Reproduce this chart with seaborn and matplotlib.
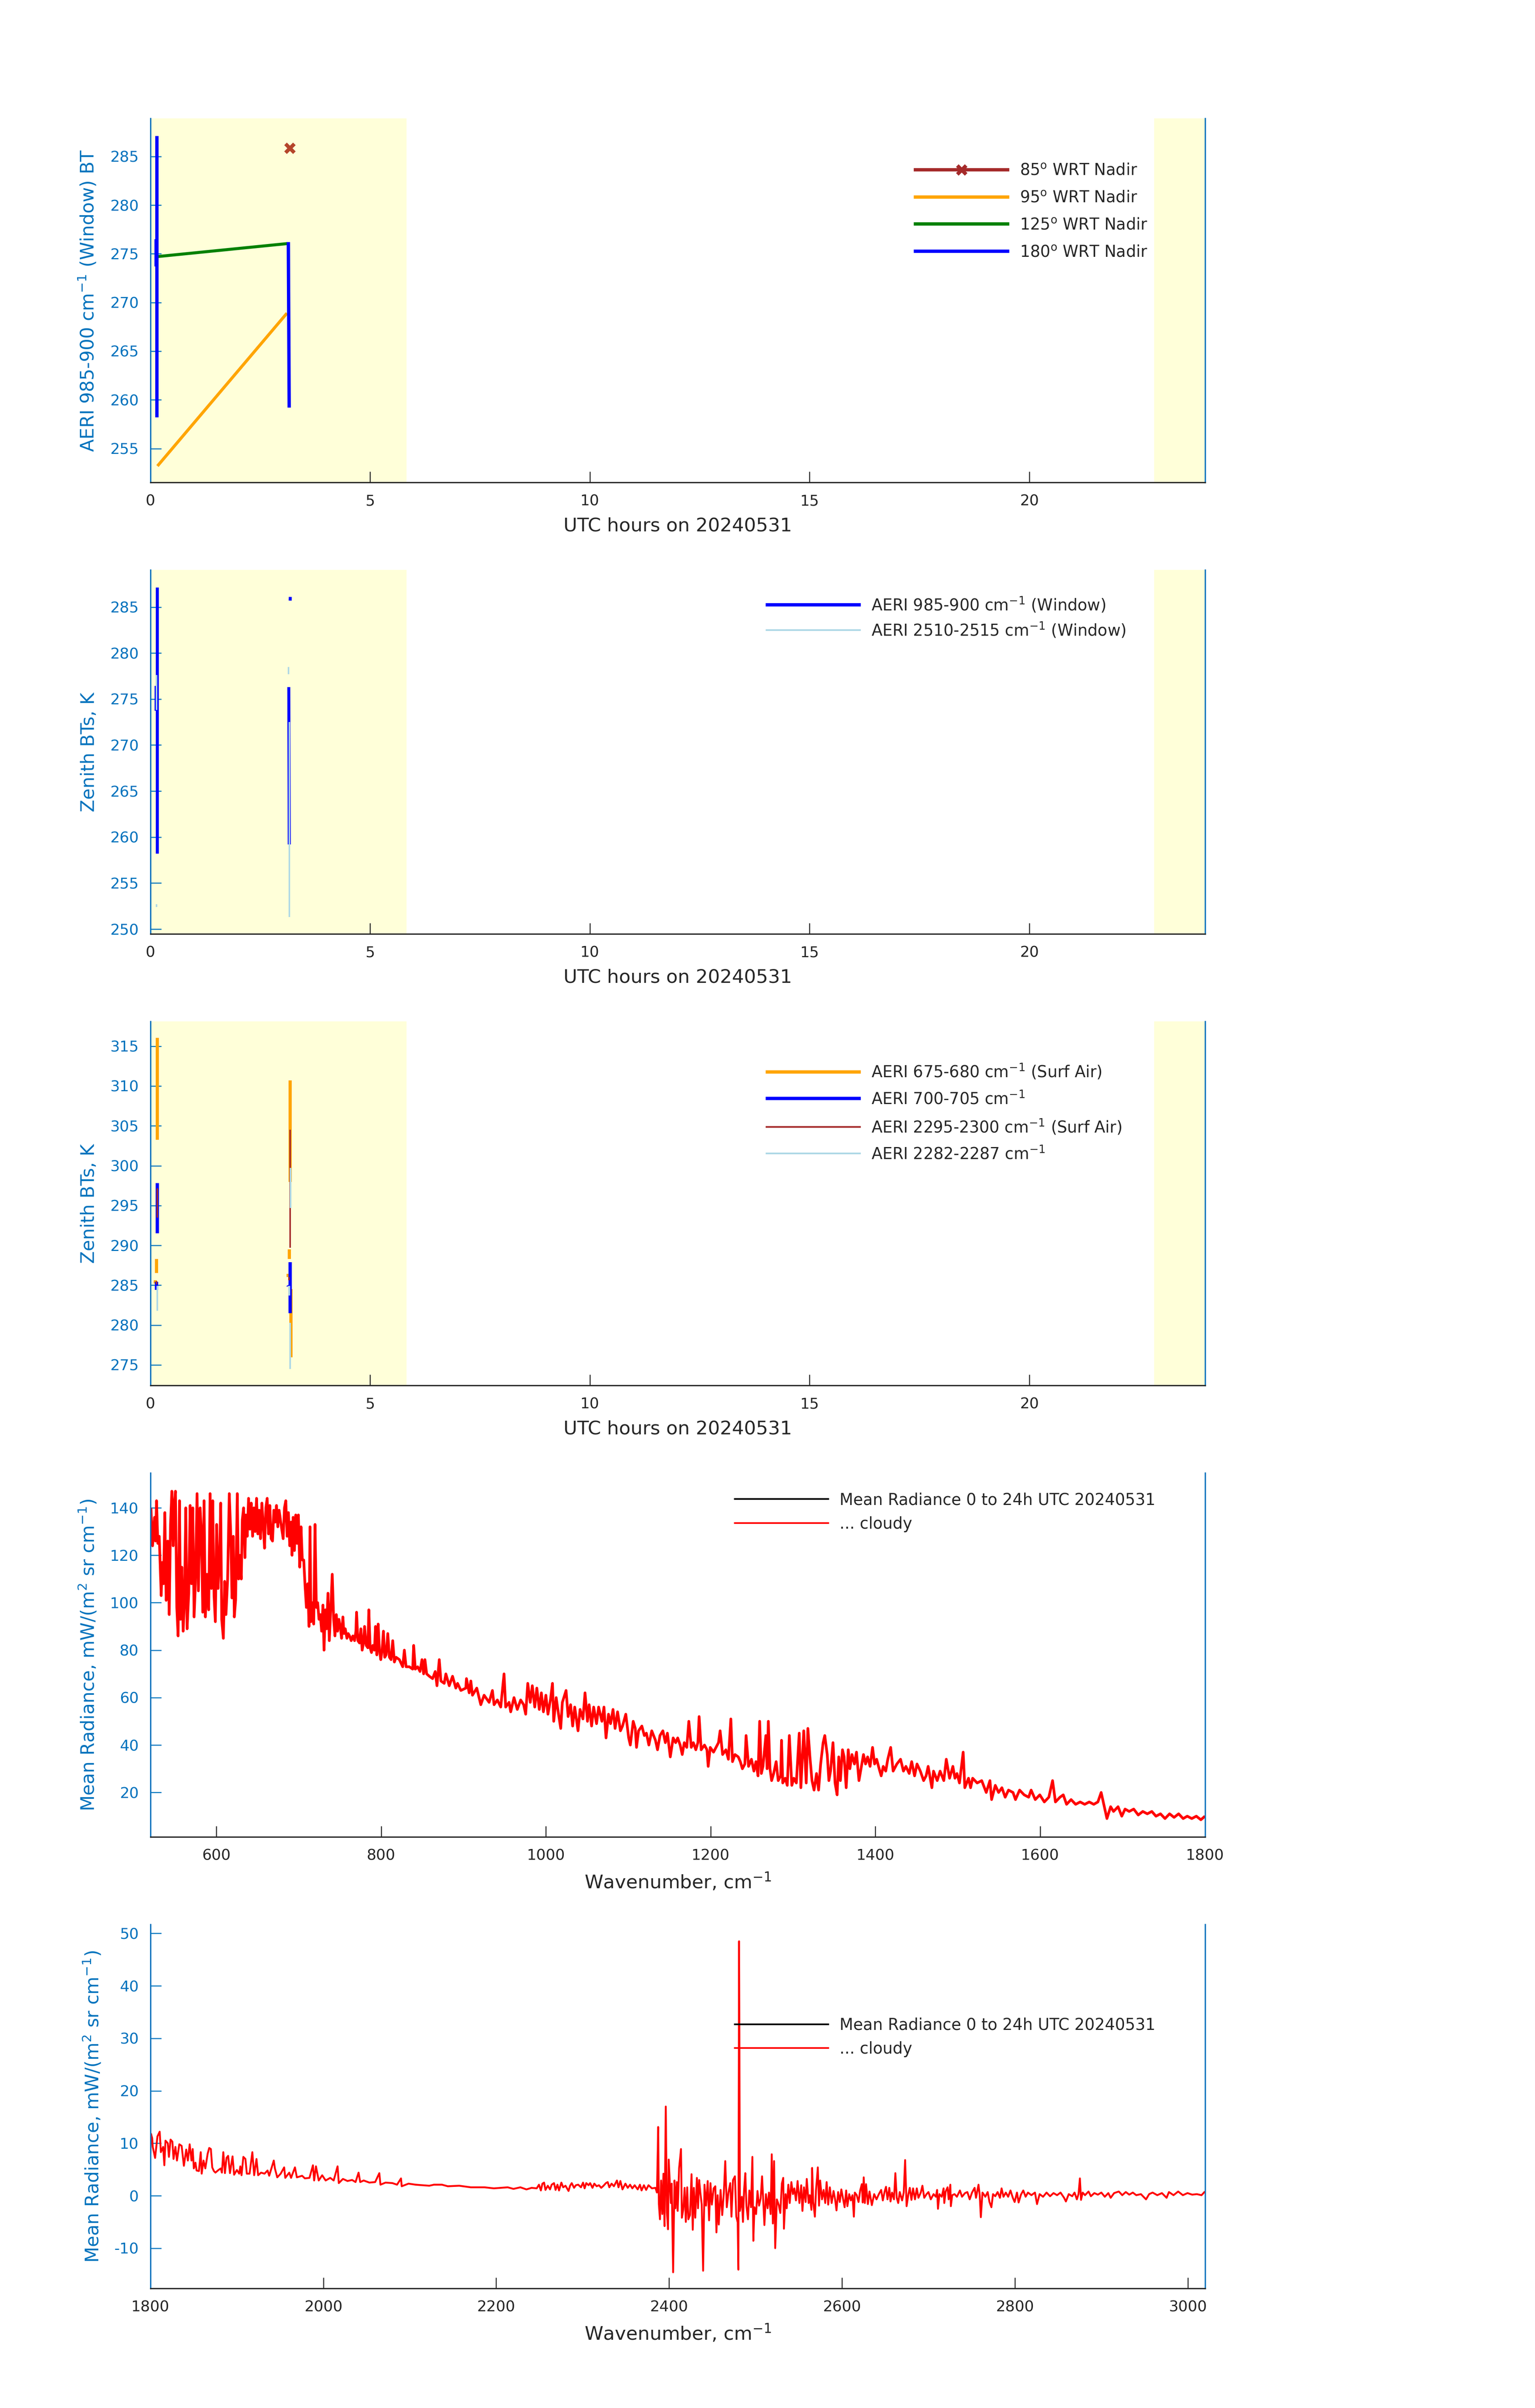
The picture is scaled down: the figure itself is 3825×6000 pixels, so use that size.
import numpy as np
import matplotlib
matplotlib.use("Agg")
import matplotlib.pyplot as plt
from matplotlib.lines import Line2D
import seaborn as sns

nan = np.nan

# ---------------------------------------------------
# Data
# ---------------------------------------------------

# panel 1 : BT by scan angle (UTC hours, K)
p1_t_85 = [3.171]
p1_v_85 = [285.85]
p1_t_95 = [0.160, 3.107]
p1_v_95 = [253.2, 268.9]
p1_t_125 = [0.128, 3.120]
p1_v_125 = [274.7, 276.05]
p1_t_180 = [0.125, 0.125, nan, 0.147, 0.147, nan, 3.139, 3.158]
p1_v_180 = [276.5, 273.7, nan, 287.1, 258.2, nan, 276.2, 259.2]

# panel 2 : zenith window BTs
p2_t_win = [0.125, 0.125, nan, 0.157, 0.157, nan, 3.149, 3.160, nan, 3.180, 3.183]
p2_v_win = [276.45, 273.75, nan, 287.1, 258.2, nan, 276.3, 259.2, nan, 285.7, 286.1]
p2_t_sw = [0.135, 0.135, nan, 0.140, 0.140, nan, 3.142, 3.142, nan, 3.160, 3.160]
p2_v_sw = [277.6, 273.8, nan, 252.7, 252.4, nan, 278.5, 277.7, nan, 272.5, 251.3]

# panel 3 : zenith BTs, surface air channels
p3_t_675 = [0.157, 0.157, nan, 0.140, 0.140, nan, 0.112, 0.112, nan,
            3.177, 3.177, nan, 3.160, 3.160, nan, 3.130, 3.130, nan, 3.195, 3.195]
p3_v_675 = [316.05, 303.24, nan, 288.3, 286.55, nan, 285.6, 285.2, nan,
            310.72, 297.95, nan, 289.5, 288.3, nan, 286.4, 286.0, nan, 284.5, 275.97]
p3_t_700 = [0.154, 0.154, nan, 0.136, 0.136, nan, 3.180, 3.180, nan, 3.130, 3.140]
p3_v_700 = [297.8, 291.5, nan, 285.4, 284.4, nan, 287.9, 281.5, nan, 285.0, 284.9]
p3_t_2295 = [0.157, 0.157, nan, 0.136, 0.136, nan, 3.180, 3.180, nan, 3.150, 3.150]
p3_v_2295 = [297.14, 293.46, nan, 285.5, 285.1, nan, 304.5, 289.7, nan, 286.0, 285.6]
p3_t_2282 = [0.154, 0.154, nan, 3.190, 3.190, nan, 3.160, 3.160, nan, 3.177, 3.177]
p3_v_2282 = [284.9, 281.8, nan, 299.7, 294.7, nan, 284.9, 283.7, nan, 280.3, 274.5]

# panel 4 : mean cloudy radiance, 520-1800 cm-1
wn_lw = [
    520.6, 522.6, 525.0, 526.2, 527.4, 529.0, 530.7, 531.9, 533.1, 534.3,
    535.9, 537.5, 539.1, 541.1, 542.8, 544.4, 546.0, 547.6, 548.8, 550.4,
    552.0, 553.6, 555.3, 556.5, 558.1, 559.7, 561.3, 562.9, 564.5, 566.5,
    568.2, 569.8, 571.4, 573.0, 574.6, 576.6, 578.2, 580.3, 581.9, 583.5,
    585.1, 586.7, 588.7, 590.7, 592.4, 594.0, 595.6, 597.2, 598.8, 600.4,
    602.0, 604.0, 605.3, 606.5, 608.5, 610.1, 611.7, 613.7, 615.7, 617.4,
    619.0, 620.6, 621.8, 623.4, 625.4, 627.0, 628.6, 630.3, 631.5, 633.1,
    634.7, 635.9, 637.5, 639.1,
    640.7, 642.4, 644.0, 645.6, 647.2, 648.8, 650.4, 652.0, 653.6, 655.3,
    656.9, 658.5, 660.1, 661.7, 663.3, 664.9, 666.5, 668.2, 669.8, 671.4,
    673.0, 674.6, 676.2, 677.8, 679.4, 681.1, 682.7, 684.3, 685.9, 687.5,
    689.1, 690.7, 691.9, 693.2, 694.8, 696.4, 698.0, 699.6, 701.2, 702.8,
    704.4, 706.1, 707.7, 709.3, 710.9, 712.5, 713.7, 714.9, 716.5, 718.2,
    719.8, 721.4, 723.0, 724.6, 726.2, 727.8, 729.4, 730.7, 732.3, 733.9,
    735.5, 737.1, 738.7, 740.7, 742.4, 744.0, 745.6, 747.2, 748.8, 750.4,
    752.0, 753.6, 754.9, 756.5, 758.5, 760.1, 761.7, 763.7, 765.7, 767.8,
    769.4, 770.2, 771.8, 773.8, 775.4, 777.0, 778.6, 779.9, 781.9, 783.9,
    785.1, 786.7, 788.3, 789.9, 791.9, 793.2, 794.8, 796.4, 798.0, 799.6,
    801.2, 802.8, 804.4, 806.1, 808.1, 810.1, 812.1, 814.1, 816.1, 818.2,
    822.2, 826.2, 828.2, 830.3, 834.3, 838.3, 839.5, 841.5, 844.4, 847.2,
    849.6, 851.6, 853.2, 855.3, 858.5, 862.5, 865.7, 867.8, 870.6, 872.6,
    876.6, 878.6, 882.7, 886.7, 890.7, 892.8, 896.8, 902.8, 903.6, 906.9,
    908.9, 910.9, 916.1, 921.0, 925.0, 931.1, 935.1, 937.1, 941.1, 945.2,
    949.2, 951.2, 955.3, 957.3, 961.3, 965.3, 969.4,
    973.0, 975.5, 978.0, 981.0, 983.5, 986.5, 989.0, 992.0, 994.5, 997.0,
    1000.0, 1002.5, 1005.5, 1008.0, 1009.5, 1012.5, 1014.5, 1018.0, 1020.0, 1024.5,
    1027.0, 1030.0, 1032.5, 1035.0, 1039.0, 1041.5, 1045.0, 1047.5, 1050.5, 1052.5,
    1055.5, 1058.0, 1061.5, 1064.0, 1068.0, 1070.5, 1073.0, 1076.0, 1078.5, 1081.5,
    1084.0, 1087.0, 1090.5, 1093.0, 1097.0, 1100.5, 1102.5, 1106.0, 1108.5, 1110.0,
    1112.5, 1116.5, 1119.5, 1122.0, 1125.0, 1128.5, 1133.0, 1135.5, 1138.5, 1142.0,
    1145.0, 1147.5, 1151.0, 1154.5, 1157.5, 1160.0, 1163.0, 1165.5, 1168.0, 1171.0,
    1173.5, 1176.5, 1179.0, 1182.0, 1184.5, 1186.0, 1188.5, 1192.5, 1195.5, 1197.0,
    1199.5, 1203.5, 1206.5, 1209.5, 1211.5, 1214.5, 1218.5, 1221.5, 1224.5, 1226.5,
    1229.5, 1233.5, 1236.0, 1238.5, 1241.5, 1243.0, 1246.0, 1249.5, 1252.5, 1255.0,
    1257.5, 1259.5, 1261.5, 1263.5, 1267.0, 1268.5, 1270.0, 1272.0, 1274.0, 1276.5,
    1279.5, 1282.0, 1285.0, 1286.0, 1287.5, 1290.5, 1293.0, 1295.5, 1298.5, 1301.0,
    1304.0, 1307.5, 1309.5, 1313.0, 1316.0, 1318.0, 1320.5, 1323.0, 1325.5, 1328.5,
    1331.0, 1333.5, 1336.5, 1338.5, 1341.5, 1343.5, 1345.5, 1348.5, 1351.0, 1353.5,
    1355.5, 1357.5, 1360.0, 1362.0, 1364.5, 1367.0, 1369.0, 1371.5, 1374.5, 1377.0,
    1380.0, 1382.5, 1385.5, 1388.0, 1390.5, 1393.5, 1396.5, 1399.0, 1401.5, 1404.5,
    1407.0, 1409.5, 1412.5, 1415.0, 1418.5, 1421.5, 1426.0, 1430.5, 1434.0, 1437.0,
    1441.0, 1444.0, 1447.5, 1450.5, 1454.5, 1458.5, 1461.5, 1464.0, 1468.5, 1470.5,
    1475.0, 1478.5, 1483.0, 1486.0, 1490.0, 1494.0, 1496.5, 1499.0, 1502.0, 1506.5,
    1508.5, 1513.0, 1515.5, 1518.0, 1523.5, 1529.0, 1534.5, 1539.0, 1541.0, 1545.5,
    1549.5, 1553.5, 1557.5, 1561.5, 1567.0, 1570.0, 1575.0, 1580.5, 1586.0, 1589.0,
    1594.0, 1599.5, 1605.0, 1610.5, 1615.0, 1618.5, 1624.0, 1628.0, 1632.0, 1637.5,
    1643.0, 1648.5, 1654.0, 1659.5, 1665.0, 1670.0, 1674.0, 1677.5, 1681.0, 1685.5,
    1689.0, 1694.5, 1699.0, 1703.0, 1708.0, 1713.5, 1719.0, 1724.5, 1730.0, 1735.5,
    1740.5, 1746.0, 1751.5, 1757.0, 1762.5, 1768.0, 1773.5, 1778.5, 1784.0, 1789.5,
    1795.0, 1800.0,
]
rad_lw = [
    140, 124, 136, 126, 143, 125, 128, 115, 103, 117,
    108, 138, 101, 126, 95, 133, 147, 124, 141, 147,
    98, 86, 143, 93, 115, 88, 100, 140, 89, 104,
    141, 108, 140, 94, 108, 146, 105, 140, 130, 96,
    143, 94, 112, 97, 146, 106, 143, 103, 92, 133,
    106, 120, 142, 93, 85, 109, 95, 110, 146, 130,
    102, 128, 94, 101, 146, 110, 120, 110, 135, 140,
    119, 137, 128, 144,
    131, 142, 128, 140, 130, 144, 129, 139, 127, 142,
    133, 123, 140, 144, 129, 141, 127, 126, 139, 134,
    141, 132, 139, 135, 131, 127, 140, 143, 128, 138,
    124, 134, 120, 136, 122, 137, 125, 137, 115, 132,
    118, 118, 107, 98, 108, 90, 132, 92, 100, 91,
    133, 98, 100, 93, 95, 88, 99, 80, 97, 89,
    104, 84, 96, 112, 93, 86, 95, 88, 93, 90,
    85, 94, 87, 89, 85, 87, 86, 84, 86, 84,
    88, 96, 84, 83, 89, 80, 83, 90, 82, 81,
    97, 81, 79, 82, 80, 90, 78, 91, 80, 76,
    80, 88, 77, 78, 87, 77, 76, 84, 75, 77,
    76, 73, 80, 73, 73, 72, 82, 72, 73, 71,
    76, 70, 76, 70, 69, 68, 71, 65, 76, 67,
    66, 70, 65, 69, 64, 66, 63, 64, 68, 62,
    67, 61, 64, 57, 61, 58, 63, 57, 59, 56,
    70, 56, 58, 54, 60, 55, 59,
    57, 53, 66, 58, 65, 56, 64, 55, 62, 54,
    61, 53, 59, 66, 50, 60, 55, 47, 58, 63,
    52, 57, 48, 56, 46, 55, 51, 62, 50, 57,
    48, 56, 49, 56, 50, 56, 43, 53, 49, 55,
    47, 54, 46, 48, 53, 43, 40, 50, 47, 39,
    46, 48, 44, 45, 40, 46, 42, 38, 44, 46,
    41, 45, 35, 43, 41, 43, 40, 36, 41, 39,
    50, 39, 41, 38, 41, 52, 38, 40, 38, 31,
    39, 37, 39, 41, 46, 36, 38, 34, 51, 33,
    36, 35, 33, 30, 32, 44, 31, 34, 29, 33,
    27, 50, 28, 31, 44, 30, 50, 30, 25, 28,
    33, 25, 27, 42, 24, 26, 23, 44, 23, 26,
    24, 45, 22, 46, 24, 47, 35, 25, 21, 28,
    21, 32, 41, 44, 36, 25, 29, 41, 24, 19,
    35, 25, 38, 35, 22, 38, 30, 36, 32, 37,
    25, 30, 36, 32, 35, 31, 39, 32, 34, 30,
    27, 31, 29, 34, 39, 29, 32, 34, 29, 31,
    28, 33, 27, 32, 29, 25, 27, 31, 22, 29,
    25, 29, 25, 34, 26, 31, 26, 28, 24, 37,
    22, 26, 22, 26, 24, 25, 20, 25, 17, 23,
    20, 22, 18, 21, 20, 17, 21, 19, 18, 21,
    17, 19, 16, 18, 25, 16, 18, 19, 15, 17,
    15, 16, 15, 16, 15, 16, 20, 14.5, 9, 14,
    12, 14, 10, 13, 12, 13, 10.5, 12, 11, 12,
    10, 11, 9, 11, 9.5, 11, 9, 10, 9, 10,
    8.5, 10,
]

# panel 5 : mean cloudy radiance, 1800-3020 cm-1
wn_sw = [
    1800.0, 1800.6, 1802.0, 1802.7, 1805.4, 1808.1, 1810.7, 1812.1, 1814.7, 1816.1,
    1817.4, 1820.1, 1821.4, 1823.3, 1825.4, 1826.7, 1828.9, 1830.7, 1833.4, 1836.1,
    1838.7, 1841.4, 1843.3, 1845.4, 1847.5, 1848.9, 1850.2, 1852.1, 1853.4, 1856.1,
    1858.2, 1859.3, 1861.4, 1863.5, 1866.2, 1868.0, 1869.9, 1871.5, 1873.4, 1875.2,
    1878.7, 1881.4, 1882.7, 1884.3, 1886.2, 1888.0, 1889.9, 1892.0, 1895.0, 1896.8,
    1900.0, 1902.7, 1904.0, 1905.4, 1907.5, 1909.9, 1911.5, 1914.7, 1917.9, 1920.0,
    1922.7, 1924.6, 1928.0, 1932.0, 1935.5, 1937.4, 1942.7, 1944.0, 1946.7, 1950.7,
    1954.7, 1956.0, 1960.6, 1962.7, 1967.2, 1969.4, 1975.5, 1978.7, 1984.0, 1988.0,
    1989.4, 1991.5, 1994.7, 1998.7, 2002.7, 2008.0, 2012.0, 2016.5, 2017.9, 2022.7,
    2028.0, 2033.3, 2037.3, 2040.8, 2042.7, 2046.7, 2053.3, 2060.0, 2064.8, 2066.1,
    2072.0, 2080.0, 2085.3, 2089.9, 2090.7, 2098.6, 2106.7, 2114.6, 2122.6, 2128.0,
    2137.3, 2144.0, 2157.3, 2170.6, 2186.6, 2197.3, 2213.3, 2220.0, 2228.0, 2235.0,
    2241.0, 2246.9, 2249.5, 2251.7, 2253.5, 2255.4, 2257.0, 2259.7, 2262.3, 2264.2,
    2266.9, 2268.7, 2270.9, 2272.7, 2275.4, 2277.5, 2280.2, 2283.7, 2285.5, 2287.4,
    2290.1, 2292.2, 2294.9, 2298.1, 2300.5, 2302.3, 2304.2, 2306.9, 2308.7, 2311.4,
    2313.5, 2316.2, 2318.9, 2321.5, 2324.2, 2326.9, 2329.0, 2330.9, 2333.5, 2336.2,
    2339.7, 2341.5, 2343.7, 2346.1, 2349.5, 2352.2, 2354.9, 2357.5, 2360.2, 2363.7,
    2366.3, 2368.2, 2370.9, 2373.5, 2376.2, 2380.2, 2384.2, 2386.0, 2387.4, 2388.2,
    2389.5, 2390.8, 2392.2, 2393.5, 2394.8, 2396.2, 2397.5, 2398.8, 2399.6, 2401.0,
    2402.0, 2403.1, 2404.7, 2406.3, 2407.4, 2409.0, 2410.0, 2411.6, 2413.8, 2414.8,
    2416.4, 2418.0, 2419.4, 2421.0, 2422.3, 2424.2, 2426.0, 2427.4, 2428.7, 2430.3,
    2432.2, 2433.5, 2434.8, 2436.2, 2437.8, 2439.4, 2441.0, 2442.8, 2444.7, 2446.3,
    2447.9, 2449.5, 2451.6, 2453.5, 2454.8, 2456.2, 2457.5, 2459.6, 2461.5, 2463.4,
    2465.0, 2466.8, 2468.7, 2470.8, 2472.2, 2474.0, 2476.2, 2477.8, 2479.4, 2480.2,
    2481.0, 2482.0, 2484.2, 2485.5, 2486.8, 2488.2, 2489.5, 2491.3, 2492.9, 2494.8,
    2496.4, 2497.5, 2498.8, 2500.7, 2502.3, 2504.1, 2506.0, 2507.6, 2509.2, 2510.3,
    2512.1, 2514.0, 2515.6, 2517.5, 2518.8, 2520.1, 2521.5, 2522.8, 2524.7, 2526.8,
    2528.7, 2530.5, 2532.1, 2532.9, 2534.8, 2536.1, 2538.0, 2539.6, 2541.5, 2543.3,
    2544.9, 2546.8, 2548.7, 2550.8, 2552.9, 2554.3, 2556.1, 2558.0, 2559.3, 2561.5,
    2562.8, 2564.7, 2565.5, 2566.8, 2568.7, 2570.0, 2572.1, 2573.5, 2574.8, 2576.9,
    2578.8, 2580.7, 2582.3, 2584.1, 2586.0, 2588.1, 2590.3, 2592.1, 2593.7, 2595.6,
    2597.5, 2599.3, 2603.1, 2604.9, 2606.3, 2608.4, 2610.3, 2612.2, 2613.8, 2614.9,
    2617.1, 2619.2, 2621.1, 2623.0, 2624.1, 2625.2, 2626.5, 2627.9, 2630.0, 2631.9,
    2634.6, 2637.3, 2640.0, 2642.7, 2645.4, 2647.3, 2649.4, 2651.0, 2652.7, 2654.8,
    2656.2, 2658.0, 2660.2, 2661.8, 2663.4, 2665.1, 2666.9, 2669.6, 2671.5, 2673.1,
    2674.8, 2676.9, 2678.5, 2680.4, 2682.3, 2684.5, 2686.6, 2688.5, 2691.2, 2693.1,
    2695.2, 2697.9, 2700.1, 2702.8, 2706.0, 2708.7, 2710.1, 2711.1, 2712.8, 2715.5,
    2717.6, 2718.4, 2720.0, 2722.2, 2723.5, 2725.4, 2726.0, 2727.6, 2730.3, 2733.0,
    2736.5, 2738.9, 2742.4, 2745.1, 2747.8, 2750.5, 2753.5, 2755.1, 2758.0, 2759.4,
    2760.7, 2762.6, 2765.9, 2768.6, 2770.7, 2772.9, 2774.8, 2777.4, 2780.1, 2782.8,
    2784.7, 2786.9, 2789.6, 2792.3, 2795.0, 2797.7, 2799.8, 2802.5, 2804.4, 2807.1,
    2809.8, 2812.5, 2815.2, 2819.2, 2823.3, 2825.7, 2828.7, 2832.7, 2836.7, 2840.8,
    2844.8, 2848.9, 2852.9, 2857.0, 2859.1, 2862.4, 2866.4, 2869.1, 2871.8, 2873.7,
    2875.3, 2876.6, 2878.5, 2881.2, 2885.3, 2888.0, 2892.0, 2896.1, 2900.1, 2904.1,
    2908.2, 2910.9, 2914.9, 2920.3, 2924.3, 2928.4, 2932.4, 2936.5, 2940.5, 2945.9,
    2951.8, 2955.4, 2959.4, 2964.8, 2970.2, 2975.6, 2978.3, 2983.6, 2989.0, 2994.4,
    2999.8, 3005.2, 3010.6, 3016.0, 3020.0,
]
rad_sw = [
    8.0, 11.8, 11.0, 9.3, 7.2, 11.3, 12.2, 8.3, 9.3, 5.8,
    10.5, 10.0, 7.4, 10.7, 10.3, 7.0, 9.3, 6.7, 9.8, 9.5,
    5.7, 8.8, 6.7, 9.8, 6.7, 8.9, 5.2, 6.3, 4.8, 4.7,
    8.3, 4.2, 6.7, 5.2, 8.0, 9.1, 8.9, 5.4, 4.7, 4.4,
    4.9, 5.2, 4.4, 8.3, 4.3, 7.2, 7.6, 4.3, 7.5, 4.0,
    4.9, 4.2, 5.6, 3.9, 7.4, 7.0, 4.2, 4.2, 8.3, 3.9,
    7.0, 3.9, 4.4, 4.2, 4.8, 3.8, 6.7, 5.2, 3.5, 4.2,
    5.4, 3.4, 4.4, 3.4, 5.4, 3.5, 3.8, 3.3, 3.4, 5.8,
    2.9, 5.6, 2.9, 3.9, 2.9, 3.4, 2.9, 5.6, 2.4, 3.2,
    2.8, 3.0, 2.6, 4.4, 2.6, 2.9, 2.5, 2.6, 4.3, 2.1,
    2.5, 2.4, 2.1, 3.3, 1.8, 2.3, 2.1, 2.0, 1.9, 2.1,
    2.1, 1.8, 1.9, 1.6, 1.6, 1.4, 1.6, 1.3, 1.6, 1.2,
    1.5, 1.4, 2.1, 1.0, 2.3, 2.5, 1.1, 1.9, 1.2, 2.1,
    2.4, 1.1, 2.1, 1.0, 2.5, 1.6, 1.9, 0.9, 1.9, 2.4,
    1.5, 2.0, 2.1, 1.6, 2.5, 1.4, 2.4, 2.0, 2.4, 1.5,
    2.3, 1.8, 2.0, 1.5, 1.9, 2.4, 2.6, 1.6, 2.3, 1.8,
    2.9, 1.6, 2.8, 1.2, 2.3, 1.5, 2.1, 1.4, 2.0, 1.2,
    2.1, 1.0, 2.0, 1.1, 2.0, 1.4, 1.5, 0.6, 13.1, -1.6,
    -4.5, 2.9, -3.5, 4.2, -5.8, 17.0, -3.2, -6.4, 6.9, 2.1,
    -1.4, 2.3, -14.6, 2.9, -2.4, 2.6, -2.9, 5.2, 8.9, -4.2,
    -2.7, 1.5, -5.0, 1.6, -4.5, -3.7, 4.1, -6.5, 1.5, -4.2,
    3.4, -2.4, 3.0, 0.6, -1.7, -14.3, 2.1, -1.9, 2.8, -4.7,
    2.4, -1.7, 1.4, 1.8, -7.0, 0.1, -5.5, 1.1, -3.7, 0.6,
    6.6, -2.2, 0.6, 2.4, -4.0, 3.0, 3.7, -4.0, -5.1, -14.1,
    48.5, -2.9, -0.2, -5.0, 1.1, 4.3, -1.9, -4.5, 1.0, -2.2,
    7.4, -8.6, -2.2, -3.5, 0.9, -1.9, -0.5, 3.7, -1.9, -5.6,
    0.3, -2.4, 0.6, -3.5, 7.9, -5.3, 6.6, -10.0, -0.7, -1.7,
    -3.3, 2.3, 3.4, -6.3, 0.3, -2.4, 2.1, -1.4, 2.6, 0.3,
    1.4, -0.9, 2.8, -1.4, 2.0, -2.9, 1.6, -1.2, 3.2, -1.4,
    0.1, -2.7, 5.3, -1.2, -4.0, 1.0, 5.4, -1.9, 2.9, -0.7,
    1.1, -1.4, 2.6, -1.7, 1.6, -1.4, 0.9, -0.7, -2.8, 0.7,
    -1.2, 1.2, -2.2, 1.0, -2.0, 0.3, -0.9, 0.1, -4.0, 0.6,
    0.1, -1.2, 1.0, 2.2, -1.3, 3.5, -1.4, 2.2, -1.6, 0.8,
    -1.8, 0.3, -0.7, 0.3, 1.1, -0.9, 0.8, 1.7, -0.7, 1.5,
    -1.1, 0.6, -0.7, 4.3, -0.4, -1.4, 0.7, -0.9, 0.6, 6.8,
    -2.0, 0.3, 1.5, -0.8, 1.4, -0.7, 1.4, -0.4, 0.6, 1.9,
    -0.4, 0.3, 0.7, -0.7, 0.3, -0.2, 1.1, -2.5, 0.3, -0.2,
    1.4, -1.4, 0.8, 1.6, -0.7, 2.1, -2.0, 0.1, 0.3, -0.2,
    1.0, -0.2, 0.5, 0.7, -0.7, 0.6, 1.5, -0.4, 2.1, 0.1,
    -4.1, 0.6, -0.2, 0.7, -1.2, -2.2, 0.3, -0.1, 0.7, -0.4,
    1.4, -0.2, 0.6, -0.2, 1.0, -0.4, -1.2, 0.6, -1.3, 0.2,
    1.0, -0.2, 0.6, 0.1, 0.6, -1.6, 0.3, -0.2, 0.6, -0.1,
    0.5, 0.1, 0.6, -0.4, -1.1, 0.3, -0.1, 0.6, -0.7, 0.3,
    3.3, -0.8, 0.6, 0.1, 0.8, -0.1, 0.5, 0.2, 0.6, -0.2,
    0.5, -0.4, 0.5, 0.8, 0.1, 0.7, 0.2, 0.6, 0.1, 0.3,
    -0.7, 0.3, 0.6, 0.1, 0.5, -0.4, 0.7, 0.1, 0.8, 0.1,
    0.5, 0.2, 0.3, 0.1, 0.8,
]

assert len(wn_lw) == len(rad_lw), (len(wn_lw), len(rad_lw))
assert len(wn_sw) == len(rad_sw), (len(wn_sw), len(rad_sw))

# shaded time windows (hours)
shade_spans = [(0.0, 5.83), (22.84, 24.0)]

# ---------------------------------------------------
# Style
# ---------------------------------------------------

BLUE = "#0072BD"
DARK = "#262626"
SHADE = "#FFFFD9"
LIGHTBLUE = "#ADD8E6"
BROWN = "#A52A2A"
MARKER_RED = "#B5452A"

sns.set_style("white")
plt.rcParams["font.family"] = ["DejaVu Sans"]
plt.rcParams["mathtext.default"] = "regular"
plt.rcParams["axes.unicode_minus"] = False
plt.rcParams["lines.solid_capstyle"] = "butt"


def draw_segments(ax, t, v, **kw):
    # split on NaN gaps and draw each piece
    t = np.asarray(t, float)
    v = np.asarray(v, float)
    breaks = np.where(np.isnan(t))[0]
    for seg_t, seg_v in zip(np.split(t, breaks), np.split(v, breaks)):
        ok = ~np.isnan(seg_t)
        if ok.sum() >= 2:
            sns.lineplot(x=seg_t[ok], y=seg_v[ok], ax=ax, estimator=None,
                         sort=False, **kw)


def style_axes(ax, xlim, ylim, xticks, yticks, xlabel, ylabel):
    ax.set_xlim(*xlim)
    ax.set_ylim(*ylim)
    ax.set_xticks(xticks)
    ax.set_yticks(yticks)
    ax.spines["top"].set_visible(False)
    for side in ["left", "right"]:
        ax.spines[side].set_color(BLUE)
        ax.spines[side].set_linewidth(0.8)
    ax.spines["bottom"].set_color(DARK)
    ax.spines["bottom"].set_linewidth(0.8)
    ax.tick_params(axis="x", direction="in", length=6.5, width=0.6,
                   colors=DARK, labelsize=9, pad=7, bottom=True, top=False)
    ax.tick_params(axis="y", direction="in", length=6.5, width=0.6,
                   colors=BLUE, labelsize=9, pad=7, left=True, right=False)
    ax.set_xlabel(xlabel, fontsize=11.3, color=DARK, labelpad=5)
    ax.set_ylabel(ylabel, fontsize=11, color=BLUE, labelpad=7)


def add_legend(ax, handles, labels, anchor, spacing):
    ax.legend(handles, labels, loc="center left", bbox_to_anchor=anchor,
              frameon=False, fontsize=9.5, handlelength=6.0,
              handletextpad=0.65, labelspacing=spacing,
              borderaxespad=0, borderpad=0)


# ---------------------------------------------------
# Figure
# ---------------------------------------------------

fig = plt.figure(figsize=(12.75, 20), dpi=300)

AX_LEFT = 0.098
AX_W = 0.687
AX_H = 0.1512
bottoms = [0.7996, 0.6121, 0.4246, 0.2371, 0.0496]
axes = [fig.add_axes([AX_LEFT, b, AX_W, AX_H]) for b in bottoms]

hours_label = "UTC hours on 20240531"
wn_label = "Wavenumber, cm$^{-1}$"
rad_label = "Mean Radiance, mW/(m$^{2}$ sr cm$^{-1}$)"
hour_ticks = [0, 5, 10, 15, 20]

for ax in axes[:3]:
    for lo, hi in shade_spans:
        ax.axvspan(lo, hi, color=SHADE, lw=0, zorder=0)

# ---- panel 1 ----
ax = axes[0]
draw_segments(ax, p1_t_95, p1_v_95, color="orange", lw=1.8)
draw_segments(ax, p1_t_125, p1_v_125, color="green", lw=1.8)
draw_segments(ax, p1_t_180, p1_v_180, color="blue", lw=2.0)
sns.lineplot(x=p1_t_85, y=p1_v_85, ax=ax, color=MARKER_RED, marker="x",
             markersize=5.5, markeredgewidth=2.2, markeredgecolor=MARKER_RED,
             linestyle="none")
style_axes(ax, (0, 24), (251.5, 288.9), hour_ticks,
           [255, 260, 265, 270, 275, 280, 285], hours_label,
           "AERI 985-900 cm$^{-1}$ (Window) BT")
h1 = [Line2D([], [], color=BROWN, lw=2, marker="x", markersize=5.5,
             markeredgewidth=2.2),
      Line2D([], [], color="orange", lw=2),
      Line2D([], [], color="green", lw=2),
      Line2D([], [], color="blue", lw=2)]
l1 = ["85$^{o}$ WRT Nadir", "95$^{o}$ WRT Nadir",
      "125$^{o}$ WRT Nadir", "180$^{o}$ WRT Nadir"]
add_legend(ax, h1, l1, (0.724, 0.744), 0.7)

# ---- panel 2 ----
ax = axes[1]
draw_segments(ax, p2_t_win, p2_v_win, color="blue", lw=1.8)
draw_segments(ax, p2_t_sw, p2_v_sw, color=LIGHTBLUE, lw=0.9)
style_axes(ax, (0, 24), (249.46, 289.03), hour_ticks,
           [250, 255, 260, 265, 270, 275, 280, 285], hours_label,
           "Zenith BTs, K")
h2 = [Line2D([], [], color="blue", lw=2),
      Line2D([], [], color=LIGHTBLUE, lw=1)]
l2 = ["AERI 985-900 cm$^{-1}$ (Window)", "AERI 2510-2515 cm$^{-1}$ (Window)"]
add_legend(ax, h2, l2, (0.5833, 0.869), 0.45)

# ---- panel 3 ----
ax = axes[2]
draw_segments(ax, p3_t_675, p3_v_675, color="orange", lw=1.9)
draw_segments(ax, p3_t_700, p3_v_700, color="blue", lw=2.0)
draw_segments(ax, p3_t_2295, p3_v_2295, color=BROWN, lw=0.9)
draw_segments(ax, p3_t_2282, p3_v_2282, color=LIGHTBLUE, lw=1.0)
style_axes(ax, (0, 24), (272.4, 318.1), hour_ticks,
           [275, 280, 285, 290, 295, 300, 305, 310, 315], hours_label,
           "Zenith BTs, K")
h3 = [Line2D([], [], color="orange", lw=2),
      Line2D([], [], color="blue", lw=2),
      Line2D([], [], color=BROWN, lw=1),
      Line2D([], [], color=LIGHTBLUE, lw=1)]
l3 = ["AERI 675-680 cm$^{-1}$ (Surf Air)", "AERI 700-705 cm$^{-1}$",
      "AERI 2295-2300 cm$^{-1}$ (Surf Air)", "AERI 2282-2287 cm$^{-1}$"]
add_legend(ax, h3, l3, (0.5833, 0.749), 0.65)

# ---- panel 4 ----
rad_handles = [Line2D([], [], color="black", lw=1),
               Line2D([], [], color="red", lw=1)]
rad_labels = ["Mean Radiance 0 to 24h UTC 20240531", "... cloudy"]

ax = axes[3]
sns.lineplot(x=wn_lw, y=rad_lw, ax=ax, estimator=None, sort=False,
             color="red", lw=1.6)
style_axes(ax, (520, 1800), (1.2, 154.7),
           [600, 800, 1000, 1200, 1400, 1600, 1800],
           [20, 40, 60, 80, 100, 120, 140], wn_label, rad_label)
add_legend(ax, rad_handles, rad_labels, (0.5533, 0.892), 0.5)

# ---- panel 5 ----
ax = axes[4]
sns.lineplot(x=wn_sw, y=rad_sw, ax=ax, estimator=None, sort=False,
             color="red", lw=1.1)
style_axes(ax, (1800, 3020), (-17.7, 51.7),
           [1800, 2000, 2200, 2400, 2600, 2800, 3000],
           [-10, 0, 10, 20, 30, 40, 50], wn_label, rad_label)
add_legend(ax, rad_handles, rad_labels, (0.5533, 0.690), 0.5)

fig.savefig("out.png", dpi=300)
plt.close(fig)
